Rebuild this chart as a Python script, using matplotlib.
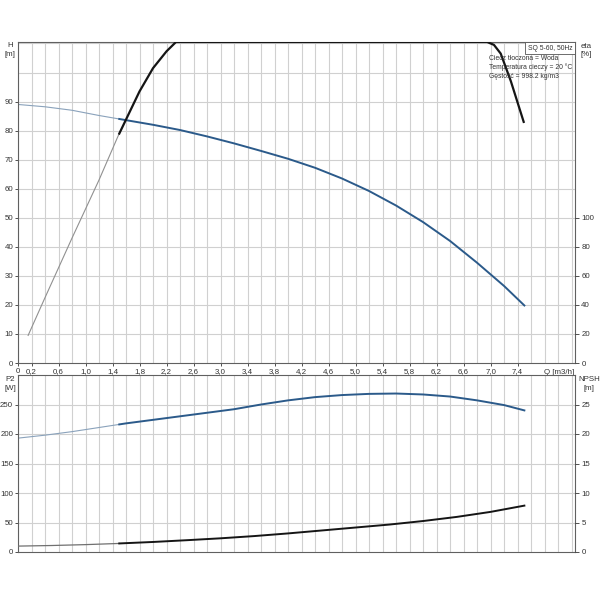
import numpy as np
from matplotlib import pyplot as plt
from matplotlib.ticker import MultipleLocator, FixedLocator

plt.rcParams['font.family'] = ['Liberation Sans', 'DejaVu Sans']

# Dane
q_h = [0, 0.4, 0.8, 1.2, 1.6, 2.0, 2.4, 2.8, 3.2, 3.6, 4.0, 4.4, 4.8, 5.2, 5.6, 6.0, 6.4, 6.8, 7.2, 7.5]
h = [89, 88.2, 87, 85.2, 83.6, 82, 80.2, 78, 75.6, 73, 70.3, 67.2, 63.5, 59.2, 54.2, 48.5, 42, 34.5, 26.5, 19.8]

q_eta = [0.15, 0.4, 0.8, 1.2, 1.48, 1.61, 1.8, 2.0, 2.2, 2.34, 4.0, 5.5, 6.95, 7.05, 7.15, 7.3, 7.49]
eta = [19, 45, 86, 126, 156, 168.6, 187, 203, 214.6, 221, 221, 221, 221, 219, 213, 194, 166]

q_p = [0, 0.4, 0.8, 1.2, 1.6, 2.0, 2.4, 2.8, 3.2, 3.6, 4.0, 4.4, 4.8, 5.2, 5.6, 6.0, 6.4, 6.8, 7.2, 7.5]
p2 = [193, 198, 204, 211, 218, 224, 230, 236, 242, 250, 257, 262.5, 266, 268, 268.6, 267, 263.5, 257, 249, 240]

q_npsh = [0, 0.5, 1.0, 1.5, 2.0, 2.5, 3.0, 3.5, 4.0, 4.5, 5.0, 5.5, 6.0, 6.5, 7.0, 7.5]
npsh = [1.0, 1.1, 1.25, 1.45, 1.7, 2.0, 2.32, 2.7, 3.15, 3.65, 4.15, 4.65, 5.25, 5.95, 6.8, 7.86]

x_ticks = [0, 0.2, 0.6, 1.0, 1.4, 1.8, 2.2, 2.6, 3.0, 3.4, 3.8, 4.2, 4.6, 5.0, 5.4, 5.8, 6.2, 6.6, 7.0, 7.4]
x_labels = ['0'] + [('%.1f' % v).replace('.', ',') for v in x_ticks[1:]]

q_split = 1.5  # poczatek grubej czesci krzywych
fs = 5.7
fs_info = 4.9
txt_c = '#333333'
grid_c = '#d0d0d0'
spine_c = '#606060'
blue = '#2b5a8a'
blue_thin = '#8aa2bb'

fig = plt.figure(figsize=(6, 6), dpi=100)
ax1 = fig.add_axes([18/600, 1-363/600, 557/600, 321/600])
ax2 = fig.add_axes([18/600, 1-552/600, 557/600, 177/600])


def split(q, y):
    q = np.array(q, float)
    y = np.array(y, float)
    a = q <= q_split
    b = q >= q_split
    ys = np.interp(q_split, q, y)
    qa = np.append(q[a], q_split)
    ya = np.append(y[a], ys)
    qb = np.insert(q[b], 0, q_split)
    yb = np.insert(y[b], 0, ys)
    return qa, ya, qb, yb


def styl(ax, ymax, ystep, ylabels_max):
    ax.set_xlim(0, 8.25)
    ax.set_ylim(0, ymax)
    ax.xaxis.set_major_locator(FixedLocator(x_ticks))
    ax.xaxis.set_minor_locator(MultipleLocator(0.2))
    ax.grid(True, which='both', axis='x', color=grid_c, lw=0.8)
    for y in np.arange(ystep, ymax, ystep):
        ax.axhline(y, color=grid_c, lw=0.8, zorder=0)
    ax.set_axisbelow(True)
    for s in ax.spines.values():
        s.set_color(spine_c)
        s.set_linewidth(0.8)
    ax.tick_params(labelsize=fs, colors=txt_c, length=2, width=0.6, pad=1.5)
    ax.tick_params(which='minor', length=0)
    ticks = np.arange(0, ylabels_max + 0.1, ystep)
    ax.set_yticks(ticks)
    ax.set_yticklabels(['%d' % t for t in ticks])


def prawa_os(ax, ymax, ticks):
    axr = ax.twinx()
    axr.set_ylim(0, ymax)
    axr.set_yticks(ticks)
    axr.tick_params(labelsize=fs, colors=txt_c, length=3, width=0.6, pad=1.5)
    for s in axr.spines.values():
        s.set_visible(False)
    return axr


# --- panel gorny: H i eta ---
styl(ax1, 110.5, 10, 90)
ax1.set_xticklabels(x_labels)

qa, ya, qb, yb = split(q_h, h)
ax1.plot(qa, ya, color=blue_thin, lw=0.8)
ax1.plot(qb, yb, color=blue, lw=1.4)

ax1e = prawa_os(ax1, 221, np.arange(0, 101, 20))
qa, ya, qb, yb = split(q_eta, eta)
ax1e.plot(qa, ya, color='#909090', lw=0.8)
ax1e.plot(qb, yb, color='#151515', lw=1.6, solid_joinstyle='round')

fig.text(10/600, 1-42/600, 'H\n[m]', ha='center', va='top', fontsize=fs,
         color=txt_c, linespacing=1.3)
fig.text(586/600, 1-43/600, 'eta\n[%]', ha='center', va='top', fontsize=fs,
         color=txt_c, linespacing=1.3)
ax1.text(0.996, 0.992, 'SQ 5-60, 50Hz', transform=ax1.transAxes, ha='right', va='top',
         fontsize=fs_info, color=txt_c,
         bbox=dict(boxstyle='square,pad=0.4', fc='white', ec='#555555', lw=0.6))
fig.text(489/600, 1-55/600, 'Ciecz tłoczona = Woda\nTemperatura cieczy = 20 °C\nGęstość = 998.2 kg/m3',
         ha='left', va='top', fontsize=fs_info, color=txt_c, linespacing=1.3)
ax1.text(0.998, -0.02, 'Q [m3/h]', transform=ax1.transAxes, ha='right', va='top',
         fontsize=fs, color=txt_c)

# --- panel dolny: P2 i NPSH ---
styl(ax2, 300, 50, 250)
ax2.set_xticklabels([])
ax2.tick_params(axis='x', length=0)

qa, ya, qb, yb = split(q_p, p2)
ax2.plot(qa, ya, color=blue_thin, lw=0.8)
ax2.plot(qb, yb, color=blue, lw=1.4)

ax2n = prawa_os(ax2, 30, np.arange(0, 26, 5))
qa, ya, qb, yb = split(q_npsh, npsh)
ax2n.plot(qa, ya, color='#707070', lw=0.9)
ax2n.plot(qb, yb, color='#151515', lw=1.4)

fig.text(10/600, 1-376/600, 'P2\n[W]', ha='center', va='top', fontsize=fs,
         color=txt_c, linespacing=1.3)
fig.text(589/600, 1-376/600, 'NPSH\n[m]', ha='center', va='top', fontsize=fs,
         color=txt_c, linespacing=1.3, multialignment='center')

fig.savefig('out.png', dpi=100)
